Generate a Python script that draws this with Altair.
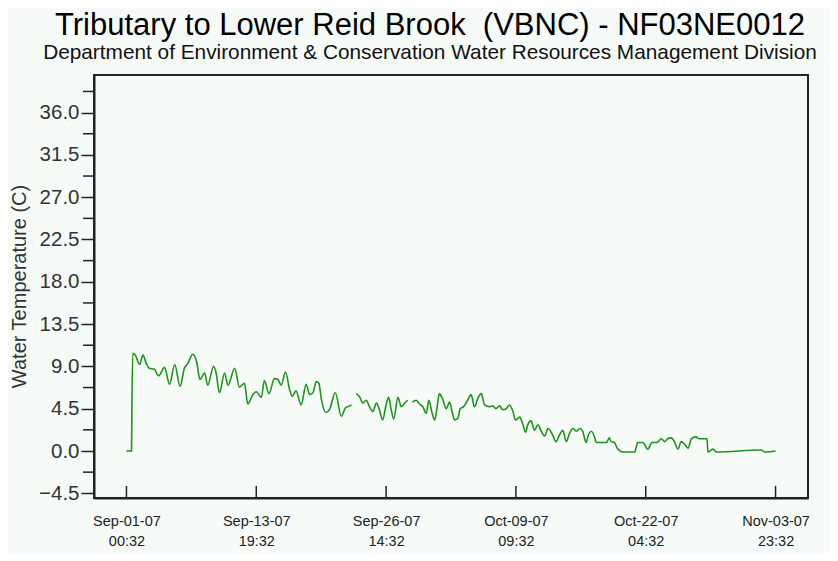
import altair as alt
import pandas as pd

# ---- data (UTC, year 2007) ----
seg1_times = ["09-01 00:32", "09-01 12:32", "09-01 13:32", "09-01 15:32", "09-01 21:32",
              "09-02 07:32", "09-02 15:32", "09-02 23:32", "09-03 06:32", "09-03 18:32",
              "09-04 04:32", "09-04 18:32", "09-05 06:32", "09-05 18:32", "09-06 07:32",
              "09-06 17:32", "09-07 01:32", "09-07 13:32", "09-07 22:32", "09-08 06:32",
              "09-08 17:32", "09-09 00:32", "09-09 14:32", "09-09 20:32", "09-10 04:32",
              "09-10 16:32", "09-11 00:32", "09-11 16:32", "09-12 03:32", "09-12 15:32",
              "09-12 23:32", "09-13 11:32", "09-13 19:32", "09-14 07:32", "09-14 14:32",
              "09-15 01:32", "09-15 14:32", "09-15 22:32", "09-16 06:32", "09-16 16:32",
              "09-17 02:32", "09-17 08:32", "09-17 17:32", "09-18 05:32", "09-18 17:32",
              "09-19 01:32", "09-19 09:32", "09-19 17:32", "09-19 23:32", "09-20 05:32",
              "09-20 16:32", "09-21 00:32", "09-21 14:32", "09-22 04:32", "09-22 14:32",
              "09-23 00:32", "09-23 04:32"]
seg1_temps = [0.0, 0.0, 5.2, 10.4, 10.2,
              9.2, 10.2, 9.3, 8.8, 8.7,
              8.0, 8.9, 7.1, 9.2, 6.9,
              8.8, 9.3, 10.3, 9.5, 7.6,
              8.3, 7.0, 9.0, 8.3, 6.2,
              8.3, 7.0, 8.8, 6.8, 7.2,
              5.0, 6.0, 6.3, 5.7, 7.5,
              6.1, 7.7, 7.6, 7.0, 8.4,
              6.5, 5.8, 6.4, 4.9, 7.1,
              6.0, 6.2, 7.4, 7.2, 5.5,
              4.1, 4.4, 6.2, 3.7, 4.6,
              4.8, 4.9]

seg2_times = ["09-23 15:32", "09-23 23:32", "09-24 07:32", "09-24 15:32", "09-24 23:32",
              "09-25 07:32", "09-25 15:32", "09-25 22:32", "09-26 06:32", "09-26 14:32",
              "09-26 20:32", "09-27 02:32", "09-27 08:32", "09-27 18:32", "09-28 02:32",
              "09-28 10:32", "09-28 17:32"]
seg2_temps = [6.1, 5.8, 5.1, 5.4, 4.7,
              4.2, 5.1, 4.4, 3.3, 4.9,
              5.7, 4.4, 3.4, 5.7, 4.7,
              5.1, 5.4]

seg3_times = ["09-29 04:32", "09-29 13:32", "09-29 21:32", "09-30 05:32", "09-30 13:32",
              "09-30 19:32", "10-01 03:32", "10-01 09:32", "10-01 16:32", "10-01 20:32",
              "10-02 04:32", "10-02 12:32", "10-02 20:32", "10-03 02:32", "10-03 08:32",
              "10-03 16:32", "10-03 21:32", "10-04 05:32", "10-04 15:32", "10-04 23:32",
              "10-05 07:32", "10-05 15:32", "10-05 23:32", "10-06 07:32", "10-06 19:32",
              "10-07 02:32", "10-07 10:32", "10-07 18:32", "10-08 02:32", "10-08 10:32",
              "10-08 18:32", "10-09 02:32", "10-09 08:32", "10-09 18:32", "10-10 01:32",
              "10-10 08:32", "10-10 13:32", "10-10 21:32", "10-11 05:32", "10-11 13:32",
              "10-11 21:32", "10-12 05:32", "10-12 13:32", "10-13 00:32", "10-13 08:32",
              "10-13 16:32", "10-14 00:32", "10-14 08:32", "10-14 16:32", "10-15 00:32",
              "10-15 08:32", "10-15 16:32", "10-15 23:32", "10-16 07:32", "10-16 11:32",
              "10-16 19:32", "10-17 03:32", "10-17 07:32", "10-17 19:32", "10-18 07:32",
              "10-18 14:32", "10-18 18:32", "10-19 02:32", "10-19 10:32", "10-19 22:32",
              "10-20 10:32", "10-21 02:32", "10-21 09:32", "10-21 21:32", "10-22 09:32",
              "10-22 19:32", "10-23 06:32", "10-23 17:32", "10-24 01:32", "10-24 08:32",
              "10-24 16:32", "10-25 00:32", "10-25 08:32", "10-25 16:32", "10-26 00:32",
              "10-26 08:32", "10-26 16:32", "10-27 02:32", "10-27 11:32", "10-27 23:32",
              "10-28 05:32", "10-28 07:32", "10-28 19:32", "10-29 03:32", "11-02 14:32",
              "11-02 21:32", "11-03 23:32"]
seg3_temps = [5.2, 5.4, 5.0, 4.7, 4.0,
              5.4, 4.0, 3.3, 5.1, 6.1,
              5.5, 4.5, 5.2, 4.2, 3.3,
              3.5, 4.5, 4.7, 5.4, 6.0,
              4.7, 5.6, 6.1, 4.9, 4.7,
              4.8, 4.5, 4.8, 4.4, 4.5,
              4.9, 4.2, 3.3, 3.6, 2.9,
              2.0, 2.8, 3.2, 2.2, 2.8,
              2.1, 1.6, 2.4, 1.7, 1.0,
              1.7, 2.2, 1.0, 1.9, 2.4,
              2.1, 2.4, 2.1, 0.9, 1.5,
              2.1, 1.5, 0.9, 0.9, 0.9,
              1.4, 1.0, 0.9, 0.2, -0.1,
              -0.1, -0.1, 0.9, 0.9, 0.2,
              0.9, 0.9, 1.3, 1.0, 1.3,
              1.4, 1.0, 0.2, 1.0, 0.7,
              0.3, 1.3, 1.5, 1.3, 1.3,
              1.3, -0.1, 0.2, -0.1, 0.1,
              -0.1, 0.0]

tick_times = ["09-01 00:32", "09-13 19:32", "09-26 14:32",
              "10-09 09:32", "10-22 04:32", "11-03 23:32"]
y_major = [-4.5, 0.0, 4.5, 9.0, 13.5, 18.0, 22.5, 27.0, 31.5, 36.0]
y_minor = [-2.25, 2.25, 6.75, 11.25, 15.75, 20.25, 24.75, 29.25, 33.75, 38.25]
y_domain = [-5.0, 40.0]


def iso(t):
    return "2007-" + t.replace(" ", "T") + ":00Z"


def ms(t):
    return int(pd.Timestamp(iso(t)).value // 10**6)


rows = []
for seg, (ts, vs) in enumerate([(seg1_times, seg1_temps), (seg2_times, seg2_temps),
                                (seg3_times, seg3_temps)]):
    for t, v in zip(ts, vs):
        rows.append({"time": iso(t), "temp": v, "seg": seg})
df = pd.DataFrame(rows)

tick_ms = [ms(t) for t in tick_times]
span = tick_ms[-1] - tick_ms[0]
x_domain = [tick_ms[0] - 0.05 * span, tick_ms[-1] + 0.05 * span]

FONT = "Liberation Sans"
DARK = "#222222"
BG = "#f7fbf8"

xscale = alt.Scale(type="utc", domain=x_domain, nice=False)
yscale = alt.Scale(domain=y_domain, nice=False, zero=False)

line = alt.Chart(df).mark_line(color="#1c941c", strokeWidth=1.6, interpolate="monotone").encode(
    x=alt.X("time:T", scale=xscale, title=None,
            axis=alt.Axis(values=tick_ms,
                          labelExpr="[utcFormat(datum.value, '%b-%d-%y'), utcFormat(datum.value, '%H:%M')]",
                          ticks=False, tickSize=0, labelPadding=16, labelFontSize=14.5,
                          labelLineHeight=20, labelFont=FONT, labelColor=DARK,
                          labelFlush=False, grid=False, domainColor=DARK, domainWidth=2)),
    y=alt.Y("temp:Q", scale=yscale,
            axis=alt.Axis(values=y_major, format=".1f", tickSize=13, tickColor=DARK,
                          tickWidth=1.5, domainColor=DARK, domainWidth=2, grid=False,
                          labelFontSize=20.5, labelFont=FONT, labelColor="#333333",
                          labelPadding=2, title="Water Temperature (C)",
                          titleFontSize=20, titleFont=FONT, titleFontWeight="normal",
                          titleColor="#333333", titleAngle=270, titleX=-75, titleY=211,
                          titleAlign="center", titleBaseline="middle")),
    detail="seg:N",
)

xticks = alt.Chart(pd.DataFrame({"time": [iso(t) for t in tick_times]})).mark_rule(
    color=DARK, strokeWidth=1.5).encode(
    x=alt.X("time:T", scale=xscale),
    y=alt.value(411), y2=alt.value(423),
)

yminor = alt.Chart(pd.DataFrame({"temp": y_minor})).mark_rule(
    color=DARK, strokeWidth=1.5).encode(
    y=alt.Y("temp:Q", scale=yscale),
    x=alt.value(-11), x2=alt.value(0),
)

chart = alt.layer(line, xticks, yminor).properties(
    width=714, height=423,
    background=BG,
    autosize=alt.AutoSizeParams(type="none"),
    padding={"left": 86, "top": 67, "right": 22, "bottom": 55},
    title=alt.TitleParams(
        text="Tributary to Lower Reid Brook \u00a0(VBNC) - NF03NE0012",
        subtitle="Department of Environment & Conservation Water Resources Management Division",
        font=FONT, subtitleFont=FONT, fontSize=31, subtitleFontSize=20.8,
        fontWeight="normal", color="black", subtitleColor="#111111",
        anchor="middle", dx=-21, offset=11, subtitlePadding=1,
    ),
).configure_view(stroke=DARK, strokeWidth=2)

chart.save("out.html", embed_options={"renderer": "svg", "actions": False})
